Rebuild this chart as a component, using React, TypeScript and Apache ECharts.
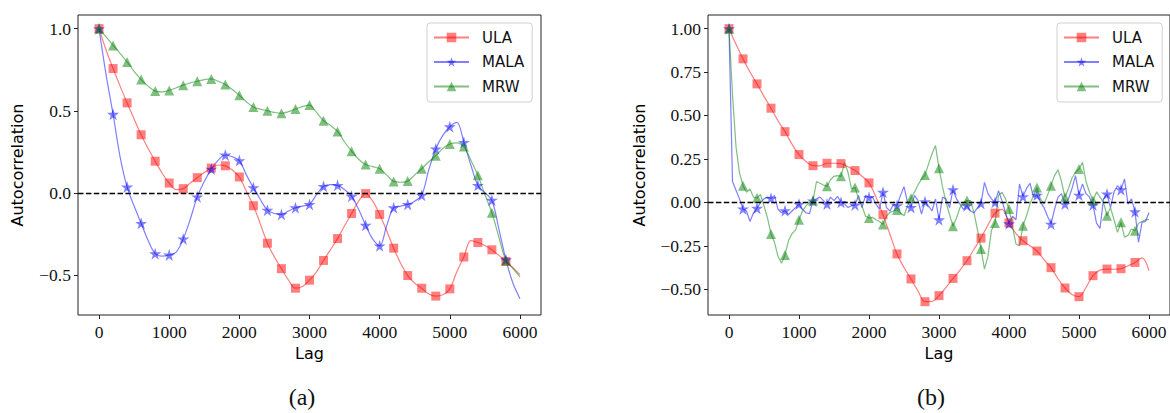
import React, { useEffect, useRef } from "react";
import * as echarts from "echarts";

// Lag spacing of the stored curves and marker spacing along each curve
const STEP_SMOOTH = 100;
const STEP_NOISY = 50;
const MARK_EVERY = 200;
const LAST_MARK = 5800;

const X_TICKS = [0, 1000, 2000, 3000, 4000, 5000, 6000];
const Y_TICKS_A = [-0.5, 0.0, 0.5, 1.0];
const Y_TICKS_B = [-0.5, -0.25, 0.0, 0.25, 0.5, 0.75, 1.0];
const SERIES_NAMES = ["ULA", "MALA", "MRW"];
const PANEL_LABELS = ["(a)", "(b)"];

// Panel (a): autocorrelation every 100 lags
const ULA_A = [
  1.0, 0.87, 0.757, 0.65, 0.548, 0.45, 0.354, 0.27, 0.193, 0.12,
  0.06, 0.02, 0.026, 0.06, 0.093, 0.125, 0.151, 0.17, 0.165, 0.14,
  0.097, 0.01, -0.078, -0.19, -0.306, -0.39, -0.461, -0.53, -0.58, -0.57,
  -0.531, -0.48, -0.411, -0.345, -0.278, -0.2, -0.125, -0.05, -0.004, -0.05,
  -0.131, -0.23, -0.336, -0.43, -0.503, -0.55, -0.58, -0.615, -0.628, -0.62,
  -0.584, -0.48, -0.39, -0.29, -0.302, -0.32, -0.346, -0.38, -0.417, -0.455,
  -0.497,
];
const MALA_A = [
  1.0, 0.72, 0.479, 0.22, 0.036, -0.08, -0.185, -0.29, -0.37, -0.385,
  -0.378, -0.36, -0.28, -0.16, -0.024, 0.07, 0.145, 0.2, 0.231, 0.22,
  0.197, 0.11, 0.032, -0.04, -0.105, -0.125, -0.131, -0.11, -0.09, -0.08,
  -0.07, -0.01, 0.04, 0.05, 0.046, 0.02, -0.02, -0.1, -0.197, -0.28,
  -0.322, -0.2, -0.09, -0.08, -0.07, -0.05, -0.014, 0.14, 0.268, 0.35,
  0.403, 0.43, 0.308, 0.17, 0.046, 0.0, -0.044, -0.22, -0.407, -0.55,
  -0.644,
];
const MRW_A = [
  1.0, 0.95, 0.898, 0.85, 0.797, 0.74, 0.69, 0.65, 0.62, 0.615,
  0.624, 0.64, 0.656, 0.67, 0.68, 0.69, 0.694, 0.68, 0.66, 0.63,
  0.594, 0.555, 0.523, 0.51, 0.5, 0.49, 0.485, 0.495, 0.511, 0.525,
  0.535, 0.49, 0.439, 0.41, 0.374, 0.31, 0.254, 0.205, 0.173, 0.16,
  0.147, 0.11, 0.07, 0.065, 0.072, 0.11, 0.147, 0.19, 0.227, 0.27,
  0.298, 0.305, 0.282, 0.2, 0.107, -0.01, -0.121, -0.27, -0.411, -0.46,
  -0.511,
];

// Panel (b): ULA every 100 lags, MALA and MRW every 50 lags
const ULA_B = [
  1.0, 0.91, 0.826, 0.75, 0.682, 0.61, 0.542, 0.47, 0.407, 0.335,
  0.275, 0.235, 0.211, 0.21, 0.225, 0.225, 0.223, 0.205, 0.183, 0.15,
  0.112, 0.03, -0.071, -0.185, -0.297, -0.375, -0.441, -0.51, -0.572, -0.57,
  -0.537, -0.49, -0.438, -0.39, -0.336, -0.27, -0.206, -0.13, -0.062, -0.04,
  -0.119, -0.18, -0.221, -0.25, -0.28, -0.33, -0.376, -0.44, -0.493, -0.53,
  -0.543, -0.49, -0.422, -0.39, -0.384, -0.385, -0.382, -0.365, -0.346, -0.32,
  -0.394,
];
const MALA_B = [
  1.0, 0.12, 0.07, 0.02, -0.038, -0.05, -0.11, -0.06,
  -0.034, 0.0, 0.02, 0.03, 0.023, 0.04, -0.04, -0.06,
  -0.048, -0.07, -0.05, -0.03, -0.01, -0.04, -0.06, -0.065,
  0.008, 0.02, 0.03, 0.01, -0.01, 0.03, 0.01, 0.035,
  0.0, -0.01, -0.03, -0.02, -0.015, 0.04, -0.03, 0.04,
  0.029, 0.03, -0.01, -0.04, 0.058, -0.03, -0.05, -0.01,
  -0.019, 0.04, 0.09, 0.0, -0.029, 0.04, 0.01, -0.067,
  0.004, -0.02, -0.05, 0.02, -0.1, 0.03, 0.02, -0.03,
  0.073, 0.02, -0.01, -0.04, -0.019, -0.05, -0.06, -0.03,
  -0.006, 0.115, 0.05, 0.02, 0.0, 0.067, 0.01, -0.06,
  -0.123, -0.08, -0.1, 0.106, 0.033, 0.08, 0.11, 0.03,
  0.042, 0.0, -0.03, -0.08, -0.125, -0.04, 0.03, 0.05,
  -0.01, 0.02, 0.08, 0.154, 0.042, 0.106, 0.05, 0.03,
  -0.015, -0.12, -0.15, 0.02, 0.048, -0.03, 0.06, 0.096,
  0.073, 0.135, -0.01, 0.02, -0.054, -0.23, -0.115, -0.11,
  -0.058,
];
const MRW_B = [
  1.0, 0.62, 0.32, 0.17, 0.096, 0.058, 0.077, 0.03,
  0.025, 0.045, -0.02, -0.09, -0.182, -0.23, -0.31, -0.35,
  -0.303, -0.22, -0.18, -0.16, -0.1, -0.05, -0.02, 0.0,
  0.01, 0.12, 0.11, 0.1, 0.092, 0.13, 0.15, 0.154,
  0.15, 0.23, 0.173, 0.077, 0.086, 0.02, -0.02, -0.08,
  -0.09, -0.086, -0.1, -0.11, -0.128, -0.08, -0.058, -0.05,
  -0.044, -0.06, -0.077, -0.02, 0.023, 0.06, 0.1, 0.134,
  0.157, 0.22, 0.28, 0.327, 0.196, 0.09, 0.0, -0.07,
  -0.138, -0.09, -0.03, 0.0, 0.01, 0.01, -0.06, -0.16,
  -0.268, -0.384, -0.31, -0.16, -0.119, 0.04, 0.058, 0.02,
  -0.038, -0.14, -0.24, -0.25, -0.134, -0.077, -0.01, 0.04,
  0.086, 0.02, -0.01, 0.04, 0.096, 0.154, 0.188, 0.12,
  0.029, 0.08, 0.14, 0.173, 0.192, 0.23, 0.12, 0.058,
  0.01, 0.06, 0.03, 0.0, -0.077, -0.03, -0.1, -0.173,
  -0.115, -0.2, -0.19, -0.153, -0.163, -0.12, -0.11, -0.1,
  -0.1,
];

const RED = "rgba(255,0,0,0.5)";
const BLUE = "rgba(0,0,255,0.5)";
const GREEN = "rgba(0,128,0,0.5)";
const STAR =
  "path://M0 -100 L22 -31 L95 -31 L36 12 L59 81 L0 38 L-59 81 L-36 12 L-95 -31 L-22 -31 Z";

const TICK_FONT = "'Liberation Serif', serif";
const SANS = "'DejaVu Sans', sans-serif";

const fmtMinus = (s: string) => s.replace("-", "\u2212");

function curve(
  name: string,
  values: number[],
  step: number,
  panel: number,
  color: string,
  symbol: string,
  symbolSize: number,
  smooth: number | boolean,
  withZeroLine = false
) {
  const s: any = {
    type: "line",
    name,
    xAxisIndex: panel,
    yAxisIndex: panel,
    data: values.map((v, i) => {
      const lag = i * step;
      return lag % MARK_EVERY === 0 && lag <= LAST_MARK
        ? { value: [lag, v] }
        : { value: [lag, v], symbol: "none" };
    }),
    symbol,
    symbolSize,
    showSymbol: true,
    showAllSymbol: true,
    smooth,
    lineStyle: { color, width: 1.2 },
    itemStyle: { color, borderWidth: 0 },
    emphasis: { disabled: true },
    silent: true,
  };
  if (withZeroLine) {
    s.markLine = {
      silent: true,
      symbol: "none",
      label: { show: false },
      lineStyle: { color: "#000", type: [5.5, 2.4], width: 1.4 },
      data: [{ yAxis: 0 }],
    };
  }
  return s;
}

function xAxis(gridIndex: number) {
  return {
    type: "value",
    gridIndex,
    min: -300,
    max: 6300,
    name: "Lag",
    nameLocation: "middle",
    nameGap: 27,
    nameTextStyle: { fontFamily: SANS, fontSize: 16, color: "#000" },
    axisLine: { show: false, onZero: false },
    splitLine: { show: false },
    axisTick: {
      show: true,
      customValues: X_TICKS,
      length: 4,
      lineStyle: { color: "#222", width: 1 },
    },
    axisLabel: {
      customValues: X_TICKS,
      margin: 8,
      fontFamily: TICK_FONT,
      fontSize: 17.5,
      color: "#111",
      formatter: (v: number) => String(v),
    },
  };
}

function yAxis(
  gridIndex: number,
  min: number,
  max: number,
  ticks: number[],
  digits: number,
  nameGap: number
) {
  return {
    type: "value",
    gridIndex,
    min,
    max,
    name: "Autocorrelation",
    nameLocation: "middle",
    nameRotate: 90,
    nameGap,
    nameTextStyle: { fontFamily: SANS, fontSize: 16, color: "#000" },
    axisLine: { show: false, onZero: false },
    splitLine: { show: false },
    axisTick: {
      show: true,
      customValues: ticks,
      length: 4,
      lineStyle: { color: "#222", width: 1 },
    },
    axisLabel: {
      customValues: ticks,
      margin: 7,
      fontFamily: TICK_FONT,
      fontSize: 17.5,
      color: "#111",
      formatter: (v: number) => fmtMinus(v.toFixed(digits)),
    },
  };
}

function legend(left: number) {
  return {
    left,
    top: 23,
    orient: "vertical",
    data: SERIES_NAMES,
    itemWidth: 35,
    itemHeight: 12,
    itemGap: 9.5,
    padding: [7, 8, 8, 6],
    borderColor: "#d0d0d0",
    borderWidth: 1,
    borderRadius: 3,
    backgroundColor: "rgba(255,255,255,0.8)",
    selectedMode: false,
    textStyle: {
      fontFamily: SANS,
      fontSize: 15,
      color: "#111",
      lineHeight: 14,
      padding: [0, 0, 0, 8],
    },
  };
}

export default function App() {
  const ref = useRef<HTMLDivElement>(null);

  useEffect(() => {
    if (!ref.current) return;
    const chart = echarts.init(ref.current, undefined, { renderer: "svg" });
    chart.setOption({
      animation: false,
      backgroundColor: "#fff",
      textStyle: { fontFamily: SANS },
      grid: [
        { left: 78, top: 15, width: 463, height: 300, show: true, borderColor: "#222", borderWidth: 1, backgroundColor: "transparent" },
        { left: 708, top: 15, width: 464, height: 300, show: true, borderColor: "#222", borderWidth: 1, backgroundColor: "transparent" },
      ],
      xAxis: [xAxis(0), xAxis(1)],
      yAxis: [
        yAxis(0, -0.743, 1.083, Y_TICKS_A, 1, 53),
        yAxis(1, -0.6485, 1.0785, Y_TICKS_B, 2, 61),
      ],
      legend: [legend(427), legend(1057)],
      series: [
        curve("ULA", ULA_A, STEP_SMOOTH, 0, RED, "rect", 9, 0.35, true),
        curve("MALA", MALA_A, STEP_SMOOTH, 0, BLUE, STAR, 12, 0.35),
        curve("MRW", MRW_A, STEP_SMOOTH, 0, GREEN, "triangle", 10, 0.35),
        curve("ULA", ULA_B, STEP_SMOOTH, 1, RED, "rect", 9, 0.35, true),
        curve("MALA", MALA_B, STEP_NOISY, 1, BLUE, STAR, 12, false),
        curve("MRW", MRW_B, STEP_NOISY, 1, GREEN, "triangle", 10, false),
      ],
      graphic: [
        {
          type: "text",
          x: 302,
          y: 397,
          style: {
            text: PANEL_LABELS[0],
            font: `24px ${TICK_FONT}`,
            fill: "#111",
            align: "center",
            verticalAlign: "middle",
          },
        },
        {
          type: "text",
          x: 931,
          y: 397,
          style: {
            text: PANEL_LABELS[1],
            font: `24px ${TICK_FONT}`,
            fill: "#111",
            align: "center",
            verticalAlign: "middle",
          },
        },
      ],
    });
    return () => chart.dispose();
  }, []);

  return (
    <div
      ref={ref}
      style={{ position: "fixed", left: 0, top: 0, width: 1170, height: 413, background: "#fff" }}
    />
  );
}
